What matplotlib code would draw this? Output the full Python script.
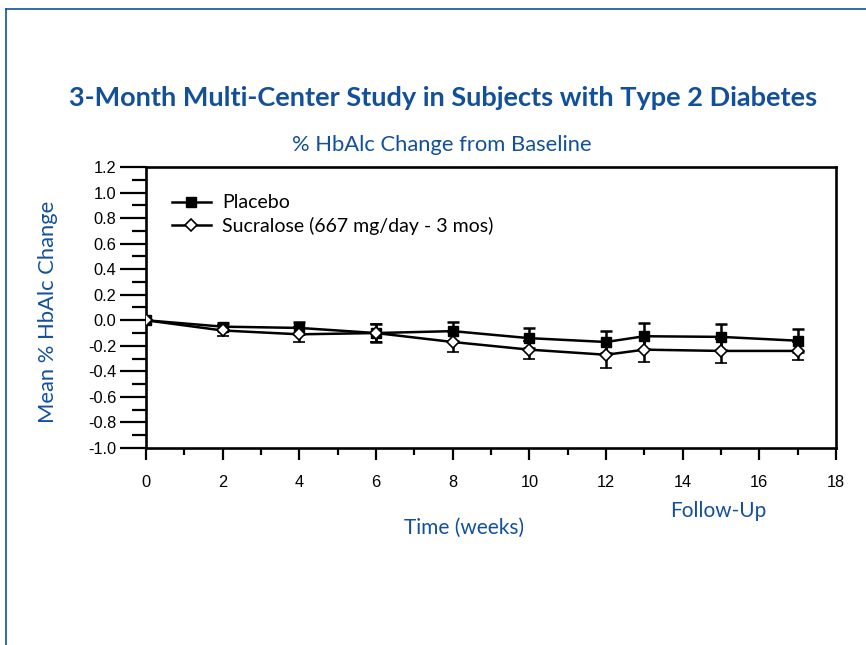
import matplotlib
matplotlib.use("Agg")
import matplotlib.pyplot as plt
from matplotlib.lines import Line2D
from matplotlib.ticker import MultipleLocator

weeks = [0, 2, 4, 6, 8, 10, 12, 13, 15, 17]
placebo = [0.0, -0.05, -0.06, -0.10, -0.085, -0.14, -0.17, -0.125, -0.13, -0.16]
placebo_err = [0, 0.03, 0.05, 0.07, 0.075, 0.08, 0.085, 0.10, 0.10, 0.09]
sucralose = [0.0, -0.08, -0.11, -0.10, -0.17, -0.23, -0.27, -0.23, -0.24, -0.24]
sucralose_err = [0, 0.04, 0.06, 0.07, 0.08, 0.07, 0.10, 0.10, 0.095, 0.07]
x_ticks = [0, 2, 4, 6, 8, 10, 12, 14, 16, 18]
y_ticks = [1.2, 1.0, 0.8, 0.6, 0.4, 0.2, 0.0, -0.2, -0.4, -0.6, -0.8, -1.0]

BLUE = "#12509c"
GILL = ["Lato", "DejaVu Sans"]
TICKF = ["Liberation Sans", "DejaVu Sans"]

fig = plt.figure(figsize=(8.66, 6.45), dpi=100)
fig.patch.set_facecolor("white")

# partial blue frame
fig.add_artist(Line2D([6/866, 6/866], [0, 1 - 9/645], transform=fig.transFigure, color=BLUE, lw=1.2))
fig.add_artist(Line2D([6/866, 1], [1 - 9/645, 1 - 9/645], transform=fig.transFigure, color=BLUE, lw=1.2))

ax = fig.add_axes([146/866, 1 - 448/645, (836 - 146)/866, (448 - 167)/645])

ax.errorbar(weeks, placebo, yerr=placebo_err, color="black", lw=1.8, marker="s",
            ms=7, mfc="black", mec="black", capsize=4, capthick=1.8, elinewidth=1.8,
            label="Placebo", zorder=3)
ax.errorbar(weeks, sucralose, yerr=sucralose_err, color="black", lw=1.8, marker="D",
            ms=6, mfc="white", mec="black", mew=1.2, capsize=4, capthick=1.8, elinewidth=1.8,
            label="Sucralose (667 mg/day - 3 mos)", zorder=4)

ax.set_xlim(0, 18)
ax.set_ylim(-1.0, 1.2)
ax.set_xticks(x_ticks)
ax.set_yticks(y_ticks)
ax.set_yticklabels([f"{v:.1f}" for v in y_ticks], fontfamily=TICKF, fontsize=11.8)
ax.set_xticklabels([str(v) for v in x_ticks], fontfamily=TICKF, fontsize=11.8)
ax.xaxis.set_minor_locator(MultipleLocator(1))
ax.yaxis.set_minor_locator(MultipleLocator(0.1))
ax.tick_params(axis="x", which="major", direction="out", length=8.6, width=1.6, pad=10.5)
ax.tick_params(axis="x", which="minor", direction="out", length=5, width=1.6)
ax.tick_params(axis="y", which="major", direction="out", length=18.5, width=1.6, pad=3)
ax.tick_params(axis="y", which="minor", direction="out", length=10, width=1.6)
for s in ax.spines.values():
    s.set_linewidth(1.9)

leg_handles = [
    Line2D([], [], color="black", lw=1.8, marker="s", ms=7, mfc="black", mec="black"),
    Line2D([], [], color="black", lw=1.8, marker="D", ms=6, mfc="white", mec="black", mew=1.2),
]
ax.legend(leg_handles, ["Placebo", "Sucralose (667 mg/day - 3 mos)"], loc="upper left",
          bbox_to_anchor=(0.012, 0.965), frameon=False, prop={"family": GILL, "size": 14},
          handlelength=2.0, handletextpad=0.6, labelspacing=0.3)

fig.text(443/866, 1 - 98/645, "3-Month Multi-Center Study in Subjects with Type 2 Diabetes",
         ha="center", va="center", color=BLUE, fontsize=19.5, fontweight="bold", family=GILL)
fig.text(442/866, 1 - 145/645, "% HbAlc Change from Baseline", ha="center", va="center",
         color=BLUE, fontsize=15.8, family=GILL)
fig.text(48/866, 1 - 312/645, "Mean % HbAlc Change", ha="center", va="center", rotation=90,
         color=BLUE, fontsize=15.8, family=GILL)
fig.text(464/866, 1 - 528/645, "Time (weeks)", ha="center", va="center",
         color=BLUE, fontsize=15, family=GILL)
fig.text(718/866, 1 - 511/645, "Follow-Up", ha="center", va="center",
         color=BLUE, fontsize=15, family=GILL)

fig.savefig("out.png", dpi=100, facecolor="white")
